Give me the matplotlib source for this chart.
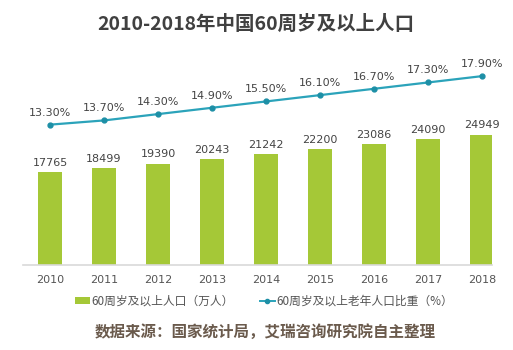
import matplotlib
matplotlib.use("Agg")
import matplotlib.pyplot as plt
from matplotlib.lines import Line2D
from matplotlib.patches import Patch

plt.rcParams['font.family'] = ['Noto Sans CJK SC', 'DejaVu Sans']

years = ['2010', '2011', '2012', '2013', '2014', '2015', '2016', '2017', '2018']
population = [17765, 18499, 19390, 20243, 21242, 22200, 23086, 24090, 24949]
share = [13.3, 13.7, 14.3, 14.9, 15.5, 16.1, 16.7, 17.3, 17.9]

W, H = 513, 350
fig = plt.figure(figsize=(W / 100, H / 100), dpi=100)
fig.patch.set_facecolor('white')

# axes box in pixel terms: left 23, right 492, bottom 265, top 55
ax = fig.add_axes([23 / W, (H - 265) / H, (492 - 23) / W, (265 - 55) / H])
x = list(range(len(years)))

bar_color = '#a5c837'
line_color = '#2ba3ba'
text_color = '#444444'
num_font = 'DejaVu Sans'

ax.bar(x, population, width=0.44, color=bar_color, zorder=2)
for xi, v in zip(x, population):
    ax.annotate(str(v), (xi, v), xytext=(0, 3), textcoords='offset points',
                ha='center', va='bottom', fontsize=8, color=text_color, family=num_font)
ax.set_xlim(-0.5, 8.18)
ax.set_ylim(0, 40150)
ax.set_yticks([])
ax.set_xticks(x)
ax.set_xticklabels(years, fontsize=8, color='#555555', family=num_font)
ax.tick_params(axis='x', length=0, pad=7)
for side in ['top', 'right', 'left']:
    ax.spines[side].set_visible(False)
ax.spines['bottom'].set_color('#d9d9d9')
ax.spines['bottom'].set_linewidth(1.2)

ax2 = ax.twinx()
ax2.plot(x, share, color=line_color, lw=1.6, marker='o', markersize=3.5,
         markerfacecolor='#1d8fa6', markeredgecolor='#1d8fa6', zorder=3)
for xi, v in zip(x, share):
    ax2.annotate('%.2f%%' % v, (xi, v), xytext=(0, 5), textcoords='offset points',
                 ha='center', va='bottom', fontsize=8, color=text_color, family=num_font)
ax2.set_ylim(0, 19.9)
ax2.set_yticks([])
for side in ['top', 'right', 'left', 'bottom']:
    ax2.spines[side].set_visible(False)

fig.text(256 / W, 1 - 24 / H, '2010-2018年中国60周岁及以上人口', ha='center', va='center',
         fontsize=14, fontweight='bold', color='#404040')

handles = [Patch(facecolor=bar_color, edgecolor='none'),
           Line2D([0], [0], color=line_color, lw=1.4, marker='o', markersize=3,
                  markerfacecolor='#1d8fa6', markeredgecolor='#1d8fa6')]
fig.legend(handles, ['60周岁及以上人口（万人）', '60周岁及以上老年人口比重（%）'],
           loc='center', bbox_to_anchor=(264 / W, 1 - 301 / H), ncol=2, frameon=False,
           prop={'size': 8.5, 'weight': 'medium'}, labelcolor='#555555',
           handlelength=1.3, handleheight=0.5, handletextpad=0.1, columnspacing=2.2)

fig.text(265 / W, 1 - 332 / H, '数据来源：国家统计局，艾瑞咨询研究院自主整理', ha='center',
         va='center', fontsize=11.2, fontweight='bold', color='#6a5a4c')

fig.savefig('out.png', dpi=100)
